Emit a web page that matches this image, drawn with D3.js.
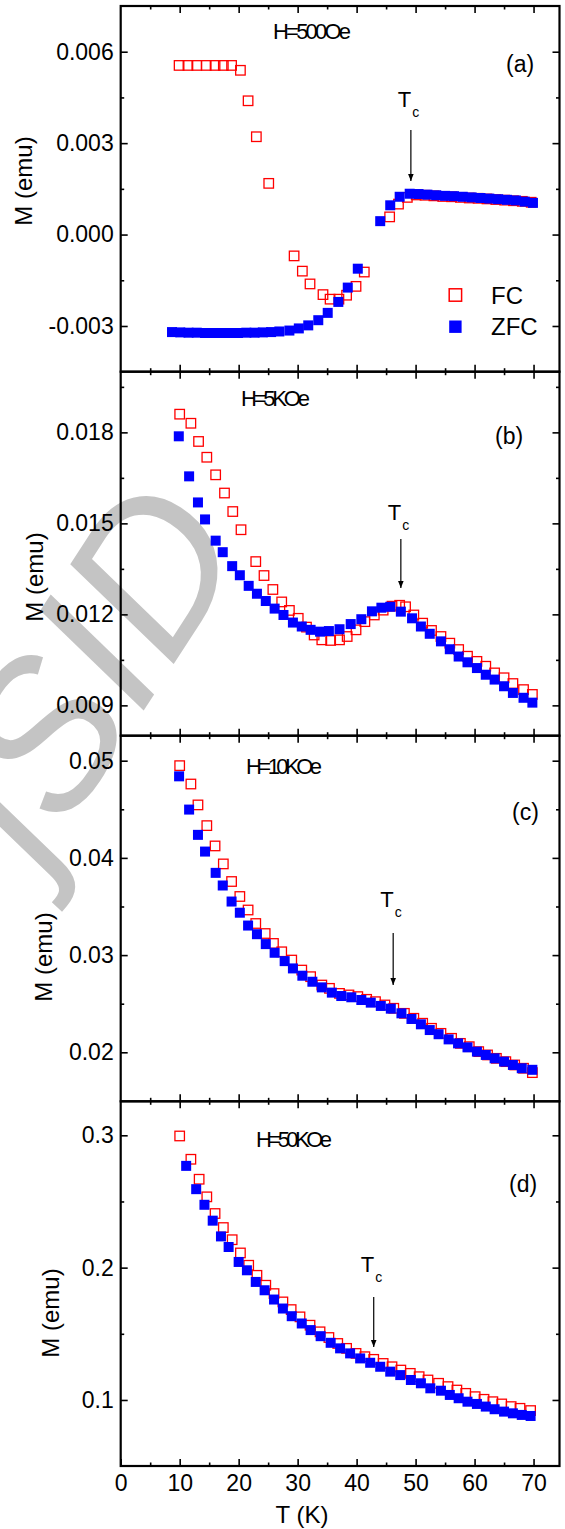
<!DOCTYPE html>
<html>
<head>
<meta charset="utf-8">
<script src="https://cdn.jsdelivr.net/npm/d3@7"></script>
<style>
  body { margin: 0; background: #ffffff; }
  svg text { font-family: "Liberation Sans", Arial, sans-serif; }
</style>
</head>
<body>
<div id="chart"></div>
<script>
// T (K), M (emu)
var fcA = [[9.9,0.00555],[11.4,0.00555],[12.9,0.00555],[14.5,0.00555],[16.0,0.00555],[17.4,0.00555],[18.8,0.00555],
  [20.3,0.00539],[21.6,0.00439],[23.0,0.00321],[25.1,0.00168],[29.4,-0.00070],[30.8,-0.00120],[32.1,-0.00162],
  [34.3,-0.00197],[35.5,-0.00212],[37.0,-0.00212],[38.3,-0.00199],[39.9,-0.00170],[41.3,-0.00123],[45.6,0.00058],
  [47.1,0.00100],[48.6,0.00122],[50.1,0.00130],[51.6,0.00129],[53.1,0.00127],[54.6,0.00125],[56.1,0.00124],
  [57.6,0.00122],[59.1,0.00120],[60.6,0.00119],[62.1,0.00117],[63.6,0.00115],[65.1,0.00113],[66.6,0.00111],
  [68.1,0.00109],[69.6,0.00106]];
var zfcA = [[8.7,-0.00320],[10.1,-0.00321],[11.5,-0.00322],[12.9,-0.00322],[14.3,-0.00323],[15.7,-0.00323],
  [17.1,-0.00323],[18.5,-0.00323],[19.9,-0.00323],[21.3,-0.00322],[22.7,-0.00322],[24.1,-0.00321],[25.5,-0.00320],
  [26.9,-0.00318],[28.6,-0.00315],[30.2,-0.00308],[31.8,-0.00298],[33.5,-0.00281],[35.1,-0.00257],[36.9,-0.00221],
  [38.5,-0.00174],[40.2,-0.00112],[44.0,0.00044],[45.7,0.00096],[47.3,0.00124],[49.0,0.00134],[50.5,0.00133],
  [52.0,0.00131],[53.5,0.00129],[55.0,0.00127],[56.5,0.00126],[58.0,0.00124],[59.5,0.00122],[61.0,0.00120],
  [62.5,0.00118],[64.0,0.00116],[65.5,0.00114],[67.0,0.00112],[68.5,0.00108],[69.9,0.00104]];

var fcB = [[10.0,0.01860],[11.9,0.01830],[13.2,0.01770],[14.6,0.01718],[16.1,0.01660],[17.6,0.01600],[19.0,0.01539],
  [20.4,0.01479],[22.9,0.01374],[24.3,0.01328],[25.8,0.01282],[27.3,0.01241],[28.6,0.01213],[30.1,0.01187],
  [31.5,0.01158],[32.8,0.01132],[34.1,0.01116],[35.6,0.01114],[37.1,0.01116],[38.4,0.01127],[39.9,0.01149],
  [41.4,0.01176],[43.0,0.01198],[44.5,0.01214],[46.0,0.01227],[47.3,0.01230],[48.3,0.01225],[49.7,0.01198],
  [51.2,0.01171],[52.7,0.01147],[54.3,0.01127],[55.8,0.01105],[57.3,0.01084],[58.8,0.01062],[60.4,0.01045],
  [61.9,0.01029],[63.4,0.01007],[65.0,0.00991],[66.5,0.00972],[68.3,0.00952],[69.8,0.00936]];
var zfcB = [[9.85,0.01787],[11.6,0.01655],[13.1,0.01569],[14.3,0.01513],[16.1,0.01443],[17.3,0.01405],[18.9,0.01359],
  [20.2,0.01329],[21.7,0.01294],[23.1,0.01268],[24.6,0.01244],[26.1,0.01219],[27.6,0.01198],[29.2,0.01173],
  [30.7,0.01160],[32.2,0.01149],[33.8,0.01143],[35.3,0.01145],[37.1,0.01151],[39.0,0.01168],[40.8,0.01184],
  [42.6,0.01210],[44.2,0.01222],[45.7,0.01225],[47.5,0.01209],[49.4,0.01187],[50.9,0.01160],[52.4,0.01136],
  [54.3,0.01111],[55.8,0.01085],[57.3,0.01061],[58.8,0.01042],[60.4,0.01023],[61.9,0.01001],[63.4,0.00985],
  [65.0,0.00963],[66.5,0.00941],[68.3,0.00925],[69.8,0.00909]];

var fcC = [[10.0,0.04949],[11.9,0.04760],[13.1,0.04545],[14.6,0.04332],[16.0,0.04123],[17.4,0.03938],[18.8,0.03757],
  [20.2,0.03603],[21.6,0.03464],[22.9,0.03325],[24.5,0.03222],[25.9,0.03120],[27.3,0.03034],[29.0,0.02949],
  [30.7,0.02846],[32.2,0.02778],[34.1,0.02692],[35.4,0.02658],[37.1,0.02606],[38.7,0.02590],[40.2,0.02573],
  [41.7,0.02545],[43.2,0.02521],[44.8,0.02487],[46.3,0.02453],[48.1,0.02401],[49.7,0.02350],[51.2,0.02299],
  [52.7,0.02247],[54.3,0.02195],[56.1,0.02144],[57.6,0.02092],[59.1,0.02058],[60.7,0.02007],[62.2,0.01973],
  [63.7,0.01938],[65.3,0.01904],[66.8,0.01870],[68.3,0.01836],[69.8,0.01791]];
var zfcC = [[9.9,0.04839],[11.6,0.04497],[13.1,0.04237],[14.3,0.04065],[16.1,0.03846],[17.3,0.03716],[18.8,0.03551],
  [20.2,0.03436],[21.6,0.03304],[23.1,0.03215],[24.6,0.03113],[26.1,0.03024],[27.8,0.02938],[29.2,0.02863],
  [30.8,0.02788],[32.5,0.02726],[34.1,0.02668],[35.8,0.02614],[37.4,0.02579],[39.1,0.02566],[40.8,0.02538],
  [42.4,0.02511],[44.1,0.02477],[45.8,0.02449],[47.6,0.02401],[49.3,0.02343],[50.9,0.02288],[52.4,0.02229],
  [53.9,0.02186],[55.6,0.02133],[57.2,0.02092],[58.8,0.02051],[60.4,0.02007],[61.9,0.01973],[63.4,0.01938],
  [65.0,0.01904],[66.5,0.01870],[68.0,0.01836],[69.8,0.01820]];

var fcD = [[10.0,0.2995],[11.9,0.2819],[13.3,0.2668],[14.6,0.2535],[16.0,0.2409],[17.4,0.2303],[18.9,0.2211],
  [20.3,0.2111],[21.7,0.2018],[23.1,0.1942],[24.6,0.1867],[26.0,0.1804],[27.5,0.1741],[28.9,0.1683],[30.4,0.1628],
  [32.1,0.1565],[33.8,0.1515],[35.3,0.1472],[36.8,0.1427],[38.3,0.1390],[39.9,0.1352],[41.4,0.1327],[42.9,0.1307],
  [44.5,0.1276],[46.0,0.1251],[47.5,0.1226],[49.1,0.1201],[50.6,0.1176],[52.1,0.1151],[53.9,0.1126],[55.5,0.1101],
  [57.0,0.1075],[58.5,0.1050],[60.1,0.1025],[61.6,0.1005],[63.1,0.0987],[64.6,0.0970],[66.2,0.0950],[67.7,0.0937],
  [69.5,0.0920]];
var zfcD = [[11.1,0.2769],[12.8,0.2593],[14.2,0.2475],[15.6,0.2355],[17.0,0.2236],[18.3,0.2156],[20.0,0.2043],
  [21.4,0.1980],[22.9,0.1892],[24.4,0.1829],[26.0,0.1759],[27.5,0.1691],[29.0,0.1633],[30.7,0.1578],[32.2,0.1528],
  [33.9,0.1482],[35.6,0.1432],[37.2,0.1390],[38.9,0.1352],[40.6,0.1314],[42.3,0.1281],[44.0,0.1251],[45.7,0.1214],
  [47.4,0.1188],[49.2,0.1151],[50.9,0.1126],[52.5,0.1088],[54.3,0.1070],[55.8,0.1038],[57.3,0.1013],[58.8,0.0987],
  [60.4,0.0970],[61.9,0.0950],[63.4,0.0930],[65.0,0.0912],[66.5,0.0899],[68.0,0.0887],[69.5,0.0879]];

var xMajor = [10, 20, 30, 40, 50, 60, 70];
var xLabels = [0, 10, 20, 30, 40, 50, 60, 70];
var xMinor = [5, 15, 25, 35, 45, 55, 65];
var fieldLabels = ["H=500Oe", "H=5KOe", "H=10KOe", "H=50KOe"];
var panelTags = ["(a)", "(b)", "(c)", "(d)"];
var tcT = [49.2, 47.5, 46.2, 42.9];

var w = 565, h = 1529;
var left = 120.7, right = 559.5;
var svg = d3.select("#chart").append("svg").attr("width", w).attr("height", h).style("background", "#ffffff");

svg.append("defs").append("marker")
    .attr("id", "ah").attr("viewBox", "0 0 10 10").attr("refX", 10).attr("refY", 5)
    .attr("markerWidth", 7).attr("markerHeight", 7).attr("markerUnits", "userSpaceOnUse").attr("orient", "auto")
    .append("path").attr("d", "M0,1 L10,5 L0,9 Z").attr("fill", "#000");

// watermark
svg.append("text")
    .attr("transform", "translate(40,870) rotate(-57)")
    .attr("font-family", "Liberation Serif, serif")
    .attr("font-style", "italic")
    .attr("font-size", 205)
    .attr("fill", "#c4c4c4")
    .text("jSID");

var x = d3.scaleLinear().domain([0, 74.4]).range([left, right]);

var panels = [
  {fc: fcA, zfc: zfcA, top: 6, bottom: 371.7, dom: [-0.0045, 0.0075], major: [-0.003, 0, 0.003, 0.006],
   minor: [-0.0015, 0.0015, 0.0045], fmt: function (v) { return d3.format(".3f")(v).replace("−", "-"); },
   labX: 32, labY: 181, fieldX: 273, fieldY: 38.5, fieldW: 78, tagX: 506, tagY: 72, tcY: 107, arrow: [130, 181]},
  {fc: fcB, zfc: zfcB, top: 371.7, bottom: 735.7, dom: [0.008, 0.020], major: [0.009, 0.012, 0.015, 0.018],
   minor: [0.0105, 0.0135, 0.0165, 0.0195], fmt: d3.format(".3f"),
   labX: 43, labY: 577, fieldX: 241, fieldY: 406, fieldW: 69, tagX: 495, tagY: 444, tcY: 519.5, arrow: [539, 588]},
  {fc: fcC, zfc: zfcC, top: 735.7, bottom: 1101.3, dom: [0.01496, 0.05257], major: [0.02, 0.03, 0.04, 0.05],
   minor: [0.025, 0.035, 0.045], fmt: d3.format(".2f"),
   labX: 52, labY: 957, fieldX: 246, fieldY: 773.5, fieldW: 76, tagX: 512, tagY: 820, tcY: 907, arrow: [933, 985]},
  {fc: fcD, zfc: zfcD, top: 1101.3, bottom: 1466, dom: [0.0501, 0.3257], major: [0.1, 0.2, 0.3],
   minor: [0.15, 0.25], fmt: d3.format(".1f"),
   labX: 59, labY: 1313, fieldX: 256, fieldY: 1147, fieldW: 76, tagX: 509, tagY: 1192, tcY: 1272, arrow: [1297, 1347]}
];

function styleTicks(g, sw) {
  g.select(".domain").remove();
  g.selectAll(".tick line").attr("stroke", "#000").attr("stroke-width", sw);
  g.selectAll(".tick text").attr("font-size", 23).attr("fill", "#000")
    .attr("font-family", "Liberation Sans, Arial, sans-serif");
}

panels.forEach(function (p, i) {
  var y = d3.scaleLinear().domain(p.dom).range([p.bottom, p.top]);
  var isLast = i === panels.length - 1;

  // data: FC first, ZFC on top
  svg.append("g").selectAll("rect").data(p.fc).enter().append("rect")
      .attr("x", function (d) { return x(d[0]) - 4.75; })
      .attr("y", function (d) { return y(d[1]) - 4.75; })
      .attr("width", 9.5).attr("height", 9.5)
      .attr("fill", "none").attr("stroke", "#ff0000").attr("stroke-width", 1.3);
  svg.append("g").selectAll("rect").data(p.zfc).enter().append("rect")
      .attr("x", function (d) { return x(d[0]) - 5; })
      .attr("y", function (d) { return y(d[1]) - 5; })
      .attr("width", 10).attr("height", 10)
      .attr("fill", "#0000ff");

  // axes, ticks inward on every side
  svg.append("g").attr("transform", "translate(" + left + ",0)")
      .call(d3.axisLeft(y).tickValues(p.major).tickSize(-7).tickPadding(7).tickFormat(p.fmt))
      .call(function (g) { styleTicks(g, 1.6); });
  svg.append("g").attr("transform", "translate(" + left + ",0)")
      .call(d3.axisLeft(y).tickValues(p.minor).tickSize(-3.5).tickFormat(""))
      .call(function (g) { styleTicks(g, 1.6); });
  svg.append("g").attr("transform", "translate(" + right + ",0)")
      .call(d3.axisRight(y).tickValues(p.major).tickSize(-7).tickFormat(""))
      .call(function (g) { styleTicks(g, 1.6); });
  svg.append("g").attr("transform", "translate(" + right + ",0)")
      .call(d3.axisRight(y).tickValues(p.minor).tickSize(-3.5).tickFormat(""))
      .call(function (g) { styleTicks(g, 1.6); });
  svg.append("g").attr("transform", "translate(0," + p.top + ")")
      .call(d3.axisTop(x).tickValues(xMajor).tickSize(-7).tickFormat(""))
      .call(function (g) { styleTicks(g, 1.6); });
  svg.append("g").attr("transform", "translate(0," + p.top + ")")
      .call(d3.axisTop(x).tickValues(xMinor).tickSize(-3.5).tickFormat(""))
      .call(function (g) { styleTicks(g, 1.6); });
  svg.append("g").attr("transform", "translate(0," + p.bottom + ")")
      .call(d3.axisBottom(x).tickValues(isLast ? xLabels : xMajor).tickSize(-7).tickPadding(9)
        .tickFormat(isLast ? d3.format("d") : ""))
      .call(function (g) { styleTicks(g, 1.6); });
  svg.append("g").attr("transform", "translate(0," + p.bottom + ")")
      .call(d3.axisBottom(x).tickValues(xMinor).tickSize(-3.5).tickFormat(""))
      .call(function (g) { styleTicks(g, 1.6); });

  svg.append("rect").attr("x", left).attr("y", p.top).attr("width", right - left).attr("height", p.bottom - p.top)
      .attr("fill", "none").attr("stroke", "#000").attr("stroke-width", 2.2);

  svg.append("text").attr("transform", "translate(" + p.labX + "," + p.labY + ") rotate(-90)")
      .attr("text-anchor", "middle").attr("font-size", 24).text("M (emu)");

  svg.append("text").attr("x", p.fieldX).attr("y", p.fieldY).attr("font-size", 22)
      .attr("textLength", p.fieldW).attr("lengthAdjust", "spacing").text(fieldLabels[i]);
  svg.append("text").attr("x", p.tagX).attr("y", p.tagY).attr("font-size", 23).text(panelTags[i]);

  // T_c marker
  var tx = x(tcT[i]);
  var tc = svg.append("text").attr("x", tx - 13).attr("y", p.tcY).attr("font-size", 22);
  tc.append("tspan").text("T");
  tc.append("tspan").attr("font-size", 14).attr("dy", 10).attr("dx", 1).text("c");
  svg.append("line").attr("x1", tx).attr("x2", tx).attr("y1", p.arrow[0]).attr("y2", p.arrow[1])
      .attr("stroke", "#000").attr("stroke-width", 1.2).attr("marker-end", "url(#ah)");
});

// legend in panel (a)
svg.append("rect").attr("x", 449.2).attr("y", 288.8).attr("width", 12.4).attr("height", 12.4)
    .attr("fill", "none").attr("stroke", "#ff0000").attr("stroke-width", 1.5);
svg.append("text").attr("x", 491).attr("y", 304).attr("font-size", 24).text("FC");
svg.append("rect").attr("x", 449.2).attr("y", 320.5).attr("width", 12.4).attr("height", 12.4)
    .attr("fill", "#0000ff");
svg.append("text").attr("x", 491).attr("y", 335).attr("font-size", 24).text("ZFC");

svg.append("text").attr("x", 302).attr("y", 1523).attr("text-anchor", "middle").attr("font-size", 24).text("T (K)");
</script>
</body>
</html>
